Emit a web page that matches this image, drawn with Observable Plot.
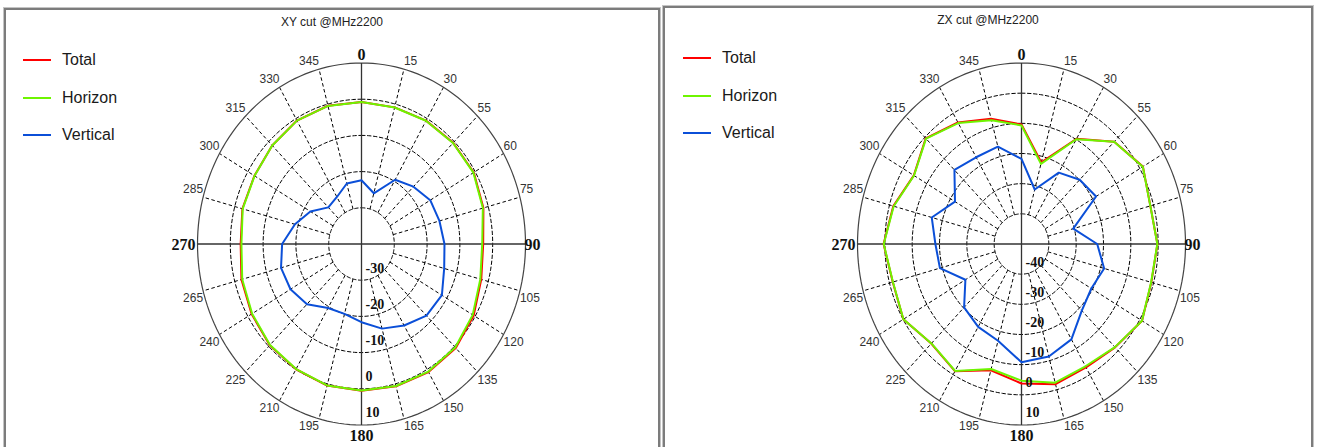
<!DOCTYPE html>
<html>
<head>
<meta charset="utf-8">
<script src="https://cdn.jsdelivr.net/npm/d3@7"></script>
<script src="https://cdn.jsdelivr.net/npm/@observablehq/plot@0.6"></script>
<style>
  html, body { margin: 0; padding: 0; background: #fff; }
  body { width: 1318px; height: 447px; overflow: hidden; position: relative; font-family: "Liberation Sans", Arial, sans-serif; }
  .plotbox { position: absolute; top: 0; width: 660px; height: 447px; }
  .frame { position: absolute; pointer-events: none; border-style: solid; border-color: #c4c4c4; border-width: 1px 1px 0 1px; }
  .frame > div { position: absolute; inset: 0; border-style: solid; border-color: #7c7c7c; border-width: 2px 2px 0 2px; }
  .title { position: absolute; font-size: 12px; color: #222; white-space: nowrap; transform: translate(-50%, -50%); }
  .leg-line { position: absolute; width: 28px; height: 2px; }
  .leg-text { position: absolute; font-size: 16px; color: #1a1a1a; line-height: 20px; white-space: nowrap; }
</style>
</head>
<body>
<script>
// ---------- data ----------
const angles = [0, 15, 30, 45, 60, 75, 90, 105, 120, 135, 150, 165, 180, 195, 210, 225, 240, 255, 270, 285, 300, 315, 330, 345];
const angleLabels = ["0", "15", "30", "55", "60", "75", "90", "105", "120", "135", "150", "165", "180", "195", "210", "225", "240", "265", "270", "285", "300", "315", "330", "345"];
const seriesNames = ["Total", "Horizon", "Vertical"];
const seriesColors = ["#ff0000", "#6ef500", "#0b4fd8"];

// XY cut @MHz2200 (dB)
const xyTotal    = [-0.77, -0.93, -0.64, -0.47, -0.47, -1.52, -2.9, -2.2, -0.51, 0.64, 0.85, 0.7, 0.51, 0.49, -0.05, -0.44, -1.31, -2.1, -3.16, -2.4, -2.3, -1.49, -0.63, -0.47];
const xyHorizon  = [-0.8, -0.95, -0.7, -0.55, -0.6, -1.7, -3.2, -2.5, -0.85, 0.4, 0.7, 0.6, 0.45, 0.45, -0.1, -0.55, -1.5, -2.35, -3.4, -2.5, -2.35, -1.5, -0.65, -0.5];
const xyVertical = [-22.4, -25.5, -19.5, -17.6, -15.8, -15.4, -14.7, -13.9, -11.7, -12.0, -14.0, -15.8, -18.4, -20.0, -19.6, -16.5, -15.0, -14.6, -15.8, -19.0, -22.0, -25.7, -25.0, -22.7];
const xyRadialDomain = [-40, 10];
const xyRingLabels = [-30, -20, -10, 0, 10];

// ZX cut @MHz2200 (dB)
const zxTotal    = [-10.4, -22.0, -9.7, -2.03, 1.3, -1.2, -0.27, -0.83, 0.93, -1.57, -2.8, -1.9, -3.75, -6.66, -1.31, -3.31, -0.09, -1.23, 0.46, -1.45, -4.52, -0.45, -3.5, -7.0];
const zxHorizon  = [-10.7, -22.5, -9.9, -2.1, 1.25, -1.2, -0.3, -0.9, 0.9, -1.65, -3.2, -2.4, -4.7, -7.1, -1.4, -3.4, -0.1, -1.3, 0.4, -1.6, -4.6, -0.6, -3.7, -7.5];
const zxVertical = [-21.8, -31.3, -22.7, -19.9, -18.5, -30.4, -22.3, -18.7, -20.5, -18.8, -13.5, -11.4, -10.8, -16.8, -18.3, -20.3, -26.3, -19.1, -18.5, -16.0, -21.9, -15.3, -16.8, -16.6];
const zxRadialDomain = [-50, 10];
const zxRingLabels = [-40, -30, -20, -10, 0, 10];

// ---------- drawing ----------
const rad = a => a * Math.PI / 180;

function polarPlot({ total, horizon, vertical, domain, rings }) {
  const cx = 361, cy = 243.5, rx = 164, ry = 181;
  const [r0, r1] = domain;
  const f = v => (v - r0) / (r1 - r0);
  const ringFracs = rings.map(f);
  const innerFrac = ringFracs[0];

  const circlePts = [];
  ringFracs.forEach((rf, k) => {
    for (let a = 0; a < 360; a += 2) circlePts.push({ ring: k, rf, a, outer: k === ringFracs.length - 1 });
  });
  const px = d => d.rf * Math.sin(rad(d.a));
  const py = d => d.rf * Math.cos(rad(d.a));

  const spokes = angles.filter(a => a % 90 !== 0);
  const axes = angles.filter(a => a === 0 || a === 90);

  const labelData = angles.map((a, i) => ({ a, label: angleLabels[i] }));
  const lx = d => Math.sin(rad(d.a));
  const ly = d => Math.cos(rad(d.a));
  const small = { fontSize: 12, fill: "#333", fontFamily: "Liberation Sans, Arial, sans-serif" };
  const big = { fontSize: 16, fontWeight: "bold", fill: "#111", fontFamily: "Liberation Serif, Times New Roman, serif" };

  const seriesData = [total, horizon, vertical].map(vals => angles.map((a, i) => ({ a, rf: f(vals[i]) })));

  return Plot.plot({
    width: 660, height: 447, margin: 0,
    x: { domain: [-1, 1], range: [cx - rx, cx + rx], axis: null },
    y: { domain: [-1, 1], range: [cy + ry, cy - ry], axis: null },
    style: { background: "transparent", overflow: "visible" },
    marks: [
      // dashed rings
      Plot.line(circlePts.filter(d => !d.outer), { x: px, y: py, z: "ring", curve: "linear-closed", stroke: "#000", strokeWidth: 1, strokeDasharray: "3.5,2.5" }),
      // dashed spokes
      Plot.link(spokes, { x1: a => innerFrac * Math.sin(rad(a)), y1: a => innerFrac * Math.cos(rad(a)), x2: a => Math.sin(rad(a)), y2: a => Math.cos(rad(a)), stroke: "#000", strokeWidth: 1, strokeDasharray: "3.5,2.5" }),
      // outer circle
      Plot.line(circlePts.filter(d => d.outer), { x: px, y: py, curve: "linear-closed", stroke: "#444", strokeWidth: 1.2 }),
      // solid axes
      Plot.link(axes, { x1: a => Math.sin(rad(a)), y1: a => Math.cos(rad(a)), x2: a => -Math.sin(rad(a)), y2: a => -Math.cos(rad(a)), stroke: "#333", strokeWidth: 1.3 }),
      // series: Total, Horizon, Vertical
      ...seriesData.map((data, k) => Plot.line(data, { x: px, y: py, curve: "linear-closed", stroke: seriesColors[k], strokeWidth: 2 })),
      // radial labels
      Plot.text(rings, { x: 0, y: v => -f(v), text: v => String(v), textAnchor: "start", dx: 4, dy: -12, ...big, fontSize: 14 }),
      // angle labels
      Plot.text(labelData.filter(d => d.a > 0 && d.a < 90), { x: lx, y: ly, text: "label", textAnchor: "start", lineAnchor: "bottom", dy: -4, ...small }),
      Plot.text(labelData.filter(d => d.a > 90 && d.a < 180), { x: lx, y: ly, text: "label", textAnchor: "start", lineAnchor: "top", dy: 3, ...small }),
      Plot.text(labelData.filter(d => d.a > 180 && d.a < 270), { x: lx, y: ly, text: "label", textAnchor: "end", lineAnchor: "top", dy: 3, ...small }),
      Plot.text(labelData.filter(d => d.a > 270), { x: lx, y: ly, text: "label", textAnchor: "end", lineAnchor: "bottom", dy: -4, ...small }),
      Plot.text(labelData.filter(d => d.a === 0), { x: lx, y: ly, text: "label", textAnchor: "middle", lineAnchor: "bottom", dy: -3, ...big }),
      Plot.text(labelData.filter(d => d.a === 180), { x: lx, y: ly, text: "label", textAnchor: "middle", lineAnchor: "top", dy: 5, ...big }),
      Plot.text(labelData.filter(d => d.a === 90), { x: lx, y: ly, text: "label", textAnchor: "start", lineAnchor: "middle", dx: -1, dy: 1, ...big }),
      Plot.text(labelData.filter(d => d.a === 270), { x: lx, y: ly, text: "label", textAnchor: "end", lineAnchor: "middle", dx: -2, dy: 1, ...big })
    ]
  });
}

function addPanel({ left, frame, title, titleY, legendX, legendYs, plotOpts }) {
  const box = document.createElement("div");
  box.className = "plotbox";
  box.style.left = left + "px";
  box.appendChild(polarPlot(plotOpts));
  document.body.appendChild(box);

  const fr = document.createElement("div");
  fr.className = "frame";
  fr.style.left = frame.x + "px";
  fr.style.top = frame.y + "px";
  fr.style.width = (frame.w - 2) + "px";
  fr.style.height = (447 - frame.y) + "px";
  fr.appendChild(document.createElement("div"));
  document.body.appendChild(fr);

  const t = document.createElement("div");
  t.className = "title";
  t.textContent = title;
  t.style.left = (frame.x + frame.w / 2) + "px";
  t.style.top = titleY + "px";
  document.body.appendChild(t);

  seriesNames.forEach((name, k) => {
    const ln = document.createElement("div");
    ln.className = "leg-line";
    ln.style.left = legendX + "px";
    ln.style.top = (legendYs[k] - 1) + "px";
    ln.style.background = seriesColors[k];
    document.body.appendChild(ln);
    const tx = document.createElement("div");
    tx.className = "leg-text";
    tx.textContent = name;
    tx.style.left = (legendX + 39) + "px";
    tx.style.top = (legendYs[k] - 10) + "px";
    document.body.appendChild(tx);
  });
}

addPanel({
  left: 0, frame: { x: 3, y: 7, w: 658 }, title: "XY cut @MHz2200", titleY: 21.5,
  legendX: 23, legendYs: [59.5, 97.5, 134.5],
  plotOpts: { total: xyTotal, horizon: xyHorizon, vertical: xyVertical, domain: xyRadialDomain, rings: xyRingLabels }
});
addPanel({
  left: 660, frame: { x: 662, y: 5, w: 652 }, title: "ZX cut @MHz2200", titleY: 20,
  legendX: 683, legendYs: [57.5, 96, 132.5],
  plotOpts: { total: zxTotal, horizon: zxHorizon, vertical: zxVertical, domain: zxRadialDomain, rings: zxRingLabels }
});
</script>
</body>
</html>
